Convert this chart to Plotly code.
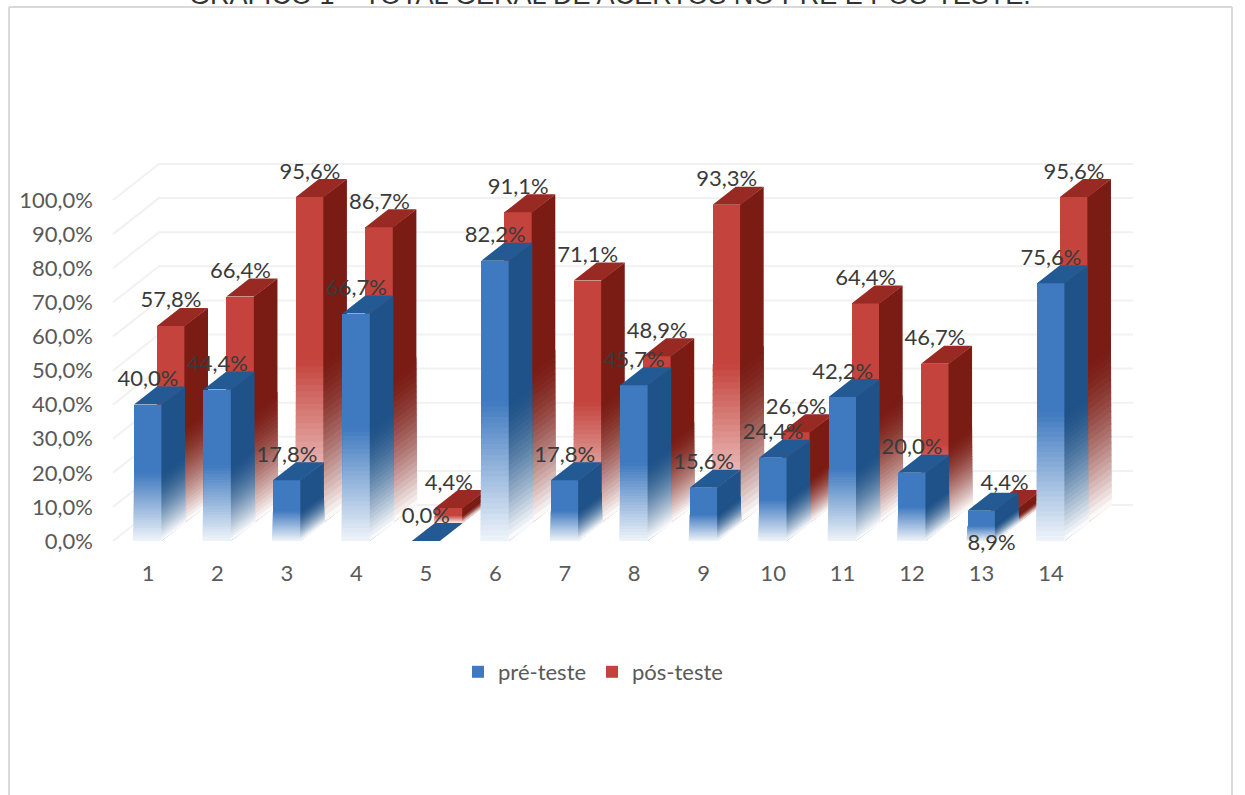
import plotly.graph_objects as go

categories = list(range(1, 15))
pre_teste = [40.0, 44.4, 17.8, 66.7, 0.0, 82.2, 17.8, 45.7, 15.6, 24.4, 42.2, 20.0, 8.9, 75.6]
pos_teste = [57.8, 66.4, 95.6, 86.7, 4.4, 91.1, 71.1, 48.9, 93.3, 26.6, 64.4, 46.7, 4.4, 95.6]
y_ticks = list(range(0, 101, 10))
y_tick_labels = [f"{v},0%" for v in y_ticks]

W, H = 1245, 795
ML, MR, MT, MB = 96, 105, 150, 237
PX_X = 69.46      # pixels per category
PX_Y = 3.41       # pixels per percent
X1_PX = 148       # pixel of category 1
Y0_PX = 541       # pixel of 0 %
BAR_W = 28 / PX_X
DX = 23 / PX_X    # depth of one row, in axis units
DY = 18 / PX_Y
EDGE = 1.0 / PX_X
SEAM = 0.6 / PX_X

x_range = [1 + (ML - X1_PX) / PX_X, 1 + (W - MR - X1_PX) / PX_X]
y_range = [(Y0_PX - (H - MB)) / PX_Y, (Y0_PX - MT) / PX_Y]
FONT = "Lato"
N_FADE = 26


def poly(points_list):
    xs, ys = [], []
    for pts in points_list:
        for p in pts:
            xs.append(p[0])
            ys.append(p[1])
        xs.append(pts[0][0])
        ys.append(pts[0][1])
        xs.append(None)
        ys.append(None)
    return xs, ys


def fill_trace(pts, color, z):
    xs, ys = poly(pts)
    return go.Scatter(x=xs, y=ys, mode="lines", fill="toself", fillcolor=color,
                      line=dict(width=0), hoverinfo="skip", showlegend=False, zorder=z)


def blend(rgb, a):
    """Mix a colour with white; a = share of white."""
    c = [round(v + (255 - v) * a) for v in rgb]
    return f"rgb({c[0]},{c[1]},{c[2]})"


def add_series(fig, name, values, shift, front, side, top, z):
    xc = [c + shift * DX for c in categories]
    base = shift * DY
    fig.add_trace(go.Bar(x=xc, y=values, base=base, width=BAR_W, name=name,
                         marker=dict(color=blend(front, 0), line=dict(width=0)),
                         hoverinfo="skip", zorder=z))
    side_p, top_p = [], []
    for x, v in zip(xc, values):
        r = x + BAR_W / 2
        l = x - BAR_W / 2
        t = base + v
        if v > 0:
            side_p.append([(r - SEAM, base), (r + DX, base + DY), (r + DX, t + DY), (r - SEAM, t)])
        top_p.append([(l, t), (r, t), (r + DX, t + DY), (l + DX, t + DY)])
    fig.add_trace(fill_trace(side_p, blend(side, 0), z))
    fig.add_trace(fill_trace(top_p, blend(top, 0), z))
    # vertical fade to white over the lower half of every bar, painted top to bottom
    for k in range(N_FADE - 1, -1, -1):
        s = 1 - (k + 0.5) / N_FADE
        a_front = s * 0.92
        a_side = s ** 1.6
        e = EDGE * s ** 1.4      # overpaint the bar's antialiased edge only where it has faded
        front_p, fade_side = [], []
        for x, v in zip(xc, values):
            if v <= 0:
                continue
            r = x + BAR_W / 2
            l = x - BAR_W / 2
            b1 = base + v * (k + 1) / N_FADE * 0.5
            b0 = max(base, base + v * k / N_FADE * 0.5 - 0.25)
            front_p.append([(l - e, b0), (r, b0), (r, b1), (l - e, b1)])
            fade_side.append([(r - SEAM, b0), (r + DX + e, b0 + DY), (r + DX + e, b1 + DY), (r - SEAM, b1)])
        fig.add_trace(fill_trace(front_p, blend(front, a_front), z))
        fig.add_trace(fill_trace(fade_side, blend(side, a_side), z))


fig = go.Figure()

# back-wall grid
gx_l, gx_r = 1 + (113 - X1_PX) / PX_X, 1 + (1133 - X1_PX) / PX_X
gx, gy = [], []
for v in y_ticks:
    gx += [gx_l, gx_l + 2 * DX, gx_r, None]
    gy += [v, v + 2 * DY, v + 2 * DY, None]
fig.add_trace(go.Scatter(x=gx, y=gy, mode="lines", line=dict(color="#f1f1f1", width=2),
                         hoverinfo="skip", showlegend=False, zorder=0))

add_series(fig, "pós-teste", pos_teste, 1, (196, 67, 61), (122, 28, 20), (152, 42, 35), 1)
add_series(fig, "pré-teste", pre_teste, 0, (63, 121, 191), (31, 82, 136), (35, 90, 148), 2)


def fmt(v):
    return f"{v:.1f}".replace(".", ",") + "%"


LABEL_UP = 6 / PX_Y
pre_label_y = [v + DY + LABEL_UP for v in pre_teste]
pre_label_x = list(categories)
pre_label_y[12] = -1.0        # the 8,9 % label sits under its bar
pre_label_x[12] = 13 + 10 / PX_X
pos_label_y = [v + 2 * DY + LABEL_UP for v in pos_teste]
pos_label_x = [c + DX for c in categories]

fig.add_trace(go.Scatter(x=pos_label_x + pre_label_x, y=pos_label_y + pre_label_y, mode="text",
                         text=[fmt(v) for v in pos_teste + pre_teste],
                         textposition="middle center",
                         textfont=dict(family=FONT, size=22, color="#3a3a3a"),
                         hoverinfo="skip", showlegend=False, zorder=3))

plot_w = W - ML - MR
plot_h = H - MT - MB


def pxx(p):
    return (p - ML) / plot_w


def pxy(p):
    return 1 - (p - MT) / plot_h


frame = "#d9d9d9"
shapes = [
    dict(type="line", xref="paper", yref="paper", x0=pxx(9), x1=pxx(9), y0=pxy(7), y1=pxy(796),
         line=dict(color=frame, width=2)),
    dict(type="line", xref="paper", yref="paper", x0=pxx(9), x1=pxx(1232), y0=pxy(7), y1=pxy(7),
         line=dict(color=frame, width=2)),
    dict(type="line", xref="paper", yref="paper", x0=pxx(1232), x1=pxx(1232), y0=pxy(7), y1=pxy(796),
         line=dict(color=frame, width=2)),
]

fig.update_layout(
    width=W, height=H, margin=dict(l=ML, r=MR, t=MT, b=MB, pad=0),
    paper_bgcolor="white", plot_bgcolor="white", barmode="overlay", bargap=0,
    shapes=shapes,
    font=dict(family=FONT, size=22, color="#595959"),
    xaxis=dict(range=x_range, tickmode="array", tickvals=categories,
               ticktext=[str(c) for c in categories], showgrid=False, zeroline=False,
               showline=False, ticklen=0, tickfont=dict(family=FONT, size=22, color="#595959")),
    yaxis=dict(range=y_range, tickmode="array", tickvals=y_ticks, ticktext=y_tick_labels,
               showgrid=False, zeroline=False, showline=False, ticklen=0, ticklabelstandoff=2,
               tickfont=dict(family=FONT, size=22, color="#595959")),
    legend=dict(orientation="h", x=pxx(458), y=pxy(651), xanchor="left", yanchor="top",
                traceorder="reversed", entrywidth=89, entrywidthmode="pixels",
                font=dict(family=FONT, size=22, color="#595959"),
                bgcolor="rgba(0,0,0,0)"),
    annotations=[dict(text="GRÁFICO 1 – TOTAL GERAL DE ACERTOS NO PRÉ E PÓS-TESTE.",
                      xref="paper", yref="paper", x=pxx(610), y=pxy(-6), xanchor="center",
                      yanchor="middle", showarrow=False,
                      font=dict(family="Liberation Sans", size=27, color="#333333"))],
)

fig.write_html("out.html", config=dict(displayModeBar=False),
               post_script="document.body.style.margin='0';")
